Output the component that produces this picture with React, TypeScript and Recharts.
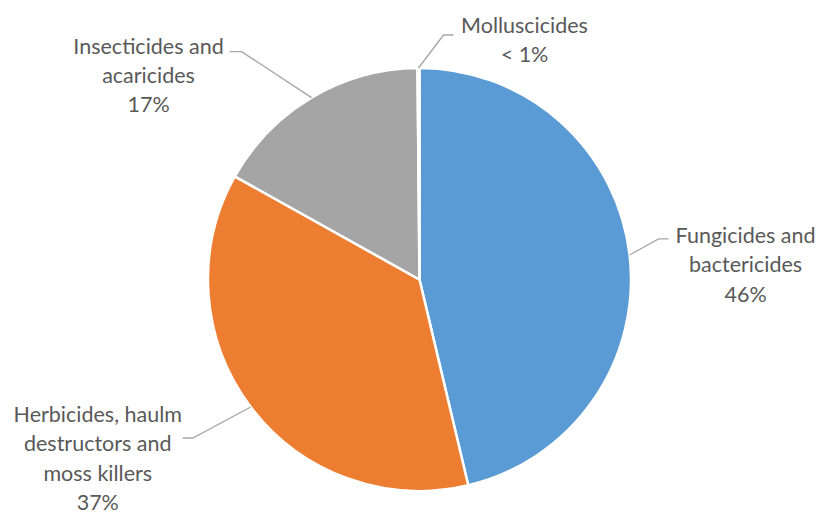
import { PieChart, Pie, Cell } from 'recharts'

const categories = [
  'Fungicides and\nbactericides',
  'Herbicides, haulm\ndestructors and\nmoss killers',
  'Insecticides and\nacaricides',
  'Molluscicides',
]
const shares = [46.3, 36.8, 16.75, 0.15]
const colors = ['#5B9BD5', '#ED7D31', '#A5A5A5', '#FFC000']

const data = categories.map((name, i) => ({ name, value: shares[i] }))

// leader line + text placement for each slice, relative to where the line leaves the pie
const labelLayout = [
  { ex: 29, ey: -16, h: 10, tx: 77, ty: -3 },
  { ex: -58, ey: 31, h: -10, tx: -85, ty: -23 },
  { ex: -70, ey: -46, h: -12, tx: -81, ty: -5 },
  { ex: 25, ey: -33, h: 10, tx: 71, ty: -9 },
]

const RAD = Math.PI / 180
const FONT = 21.5
const LINE_H = 29.3

function renderLabel(props: any) {
  const { cx, cy, midAngle, outerRadius, index, percent } = props
  const name: string = props.payload?.name ?? props.name
  const l = labelLayout[index]
  const sx = cx + outerRadius * Math.cos(-midAngle * RAD)
  const sy = cy + outerRadius * Math.sin(-midAngle * RAD)
  const mx = sx + l.ex
  const my = sy + l.ey
  const endX = mx + l.h
  const pct = percent * 100 < 1 ? '< 1%' : `${Math.round(percent * 100)}%`
  const lines = [...name.split('\n'), pct]
  const tx = endX + l.tx
  const ty = my + l.ty + FONT * 0.33

  return (
    <g key={`lbl-${index}`}>
      <polyline
        points={`${sx},${sy} ${mx},${my} ${endX},${my}`}
        fill="none"
        stroke="#A6A6A6"
        strokeWidth={1.3}
      />
      <text
        x={tx}
        y={ty}
        textAnchor="middle"
        fill="#595959"
        fontSize={FONT}
        fontFamily="Lato, 'Open Sans', sans-serif"
      >
        {lines.map((t, i) => (
          <tspan key={i} x={tx} dy={i === 0 ? 0 : LINE_H}>
            {t}
          </tspan>
        ))}
      </text>
    </g>
  )
}

export default function App() {
  return (
    <div style={{ position: 'absolute', left: 0, top: 0, background: '#fff' }}>
      <PieChart width={818} height={512} margin={{ top: 0, right: 0, bottom: 0, left: 0 }}>
        <Pie
          data={data}
          dataKey="value"
          nameKey="name"
          cx={419.5}
          cy={279.5}
          outerRadius={211.5}
          startAngle={90}
          endAngle={-270}
          stroke="#fff"
          strokeWidth={2.5}
          label={renderLabel}
          labelLine={false}
          isAnimationActive={false}
        >
          {data.map((d, i) => (
            <Cell key={d.name} fill={colors[i]} />
          ))}
        </Pie>
      </PieChart>
    </div>
  )
}
